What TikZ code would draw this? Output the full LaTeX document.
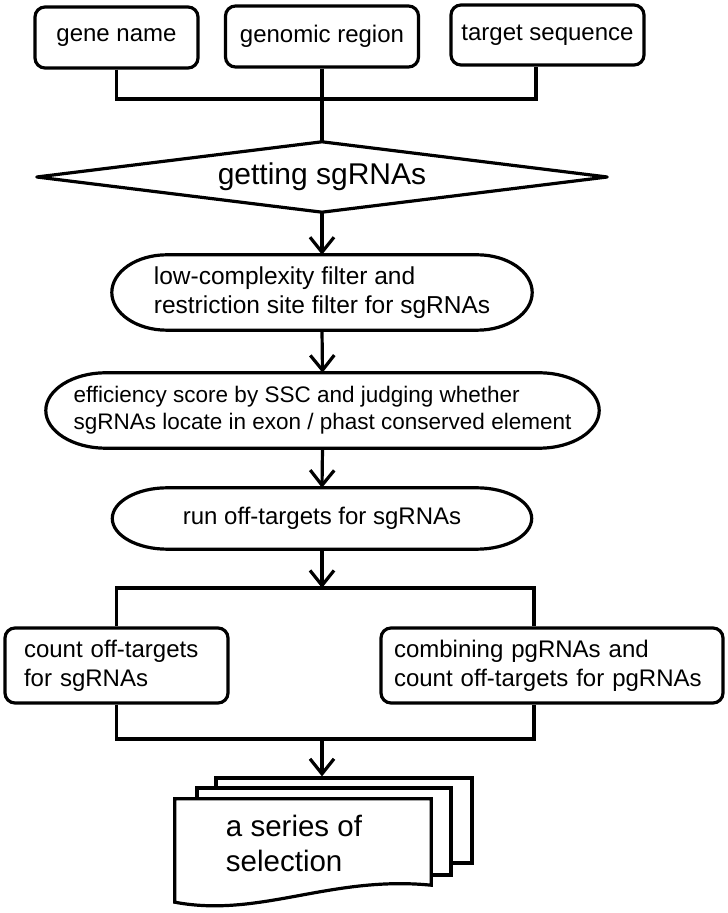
\documentclass[tikz,border=0pt]{standalone}
\usepackage{fontspec}
\setmainfont{Liberation Sans}
\usetikzlibrary{arrows.meta,calc}
\newcommand\mystadium[3]{%
  \draw[lw] ($(#1.north west)+(#2,0)$) -- ($(#1.north east)+(-#2,0)$)
    .. controls +({0.5523*#2},0) and +(0,{0.5523*#3}) .. (#1.east)
    .. controls +(0,{-0.5523*#3}) and +({0.5523*#2},0) .. ($(#1.south east)+(-#2,0)$)
    -- ($(#1.south west)+(#2,0)$)
    .. controls +({-0.5523*#2},0) and +(0,{-0.5523*#3}) .. (#1.west)
    .. controls +(0,{0.5523*#3}) and +({-0.5523*#2},0) .. ($(#1.north west)+(#2,0)$) -- cycle;}
\begin{document}
\begin{tikzpicture}[x=1pt,y=1pt,
  lw/.style={line width=3.2pt},
  conn/.style={line width=3.2pt},
  arr/.style={line width=3.2pt,-{Straight Barb[length=15pt,width=24pt]}},
  fnt/.style={font=\fontsize{24}{29}\selectfont},
  rbox/.style={draw,line width=3.2pt,rounded corners=10pt,inner sep=0pt,fnt},
  hold/.style={inner sep=0pt,fnt},
  docbox/.style={draw,line width=3.2pt,fill=white,inner sep=0pt},
]
\useasboundingbox (0,0) rectangle (728,913);

% input boxes
\node[rbox,minimum width=163pt,minimum height=61pt] (gene) at (116.5,875.5) {gene name};
\node[rbox,minimum width=193pt,minimum height=61pt] (genomic) at (322,876.5) {genomic region};
\node[rbox,minimum width=193pt,minimum height=60pt] (target) at (547.5,878) {target sequence};

% diamond
\node[hold,font=\fontsize{30}{36}\selectfont,minimum width=570pt,minimum height=70pt] (dia) at (322,736) {getting sgRNAs};
\draw[lw,line join=round] (dia.west) -- (dia.north) -- (dia.east) -- (dia.south) -- cycle;

% joins at top
\coordinate (tj) at (536,814);
\draw[conn] (gene.south) |- (tj) -- (tj |- target.south);
\draw[conn] (genomic.south) -- (dia.north);

% stadium nodes
\node[hold,font=\fontsize{24.5}{29}\selectfont,align=left,minimum width=420pt,minimum height=75pt] (e1) at (322,620.5)
  {low-complexity filter and\\restriction site filter for sgRNAs};
\mystadium{e1}{55}{37.5}
\node[hold,font=\fontsize{22.5}{27}\selectfont,align=left,minimum width=553pt,minimum height=75pt] (e2) at (322.5,502.5)
  {efficiency score by SSC and judging whether\\sgRNAs locate in exon / phast conserved element};
\mystadium{e2}{60}{37.5}
\node[hold,minimum width=419pt,minimum height=61pt] (e3) at (322,394.5) {run off-targets for sgRNAs};
\mystadium{e3}{55}{30.5}

\draw[arr] (dia.south) -- (e1.north);
\draw[arr] (e1.south) -- (e2.north);
\draw[arr] (e2.south) -- (e3.north);

% branch
\coordinate (br) at (322,325);
\coordinate (brR) at (534,325);
\draw[arr] (e3.south) -- (br);

\node[rbox,minimum width=223pt,minimum height=75pt,text width=185pt,align=left] (lbox) at (116.5,247.5)
  {count off-targets\\for sgRNAs};
\node[rbox,minimum width=342pt,minimum height=75pt,text width=316pt,align=left] (rbx) at (552,247.5)
  {combining pgRNAs and\\count off-targets for pgRNAs};
\draw[conn] (lbox.north) |- (brR) -- (brR |- rbx.north);

% bottom join
\coordinate (bj) at (322,174);
\coordinate (bjR) at (534,174);
\draw[conn] (lbox.south) |- (bjR) -- (bjR |- rbx.south);

% documents
\node[docbox,minimum width=256pt,minimum height=85pt] (backdoc) at (344,92.5) {};
\node[docbox,minimum width=254pt,minimum height=87pt] (middoc) at (324,81.5) {};
\node[inner sep=0pt,minimum width=256pt,minimum height=86pt] (frontdoc) at (303,71) {};
\draw[lw,fill=white] (frontdoc.north west) -- (frontdoc.north east) -- (frontdoc.south east)
  .. controls +(-101,10) and +(85,-16) .. ([yshift=-17pt]frontdoc.south west) -- cycle;
\node[inner sep=0pt,font=\fontsize{29.5}{35}\selectfont,align=left] (doctext) at (294,69.3) {a series of\\selection};

\draw[arr] (bj) -- (bj |- backdoc.north);
\end{tikzpicture}
\end{document}
